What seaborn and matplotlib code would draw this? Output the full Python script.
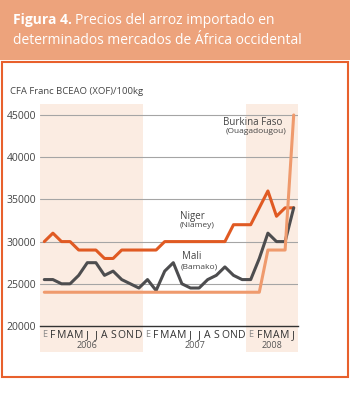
import numpy as np
import pandas as pd
import seaborn as sns
import matplotlib.pyplot as plt
from matplotlib.patches import Rectangle

# monthly prices, Jan 2006 .. Jun 2008 (XOF/100kg)
month_letters = ["E", "F", "M", "A", "M", "J", "J", "A", "S", "O", "N", "D"] * 2 + ["E", "F", "M", "A", "M", "J"]
niger = [30000, 31000, 30000, 30000, 29000, 29000, 29000, 28000, 28000, 29000, 29000, 29000,
         29000, 29000, 30000, 30000, 30000, 30000, 30000, 30000, 30000, 30000, 32000, 32000,
         32000, 34000, 36000, 33000, 34000, 34000]
mali = [25500, 25500, 25000, 25000, 26000, 27500, 27500, 26000, 26500, 25500, 25000, 24500,
        25500, 24200, 26500, 27500, 25000, 24500, 24500, 25500, 26000, 27000, 26000, 25500,
        25500, 28000, 31000, 30000, 30000, 34000]
burkina = [24000] * 25 + [24000, 29000, 29000, 29000, 45000]
years = ["2006", "2007", "2008"]
yticks = [20000, 25000, 30000, 35000, 40000, 45000]

n = len(month_letters)
df = pd.DataFrame({
    "mes": list(range(n)) * 3,
    "precio": niger + mali + burkina,
    "serie": ["Niger"] * n + ["Mali"] * n + ["Burkina"] * n,
})

sns.set_style("white")
plt.rcParams["font.family"] = ["Open Sans", "DejaVu Sans"]

fig = plt.figure(figsize=(3.5, 3.99), dpi=100)

# title banner and frame
fig.add_artist(Rectangle((0, 1 - 60 / 399), 1, 60 / 399, transform=fig.transFigure,
                         facecolor="#eda37c", edgecolor="none"))
fig.add_artist(Rectangle((2 / 350, 1 - 377 / 399), 346 / 350, (377 - 62) / 399,
                         transform=fig.transFigure, facecolor="none",
                         edgecolor="#e8602c", linewidth=1.5))
fig.text(13 / 350, 1 - 20 / 399, "Figura 4.", color="white", fontsize=10,
         fontweight="bold", va="center", ha="left")
fig.text(75 / 350, 1 - 20 / 399, "Precios del arroz importado en", color="white",
         fontsize=10, va="center", ha="left")
fig.text(13 / 350, 1 - 40 / 399, "determinados mercados de África occidental",
         color="white", fontsize=10, va="center", ha="left")
fig.text(10 / 350, 1 - 92 / 399, "CFA Franc BCEAO (XOF)/100kg", color="#444444",
         fontsize=6.8, va="center", ha="left")

ax = fig.add_axes([40 / 350, 1 - 326 / 399, 258 / 350, 222 / 399])
ax.set_xlim(-0.5, 29.5)
ax.set_ylim(20000, 46300)

# shaded years
for a, b in [(-0.5, 11.5), (23.5, 29.5)]:
    ax.axvspan(a, b, ymin=-0.117, ymax=1, color="#fbece2", lw=0, clip_on=False, zorder=0)

for y in yticks[1:]:
    ax.axhline(y, color="#a5a5a5", lw=0.8, zorder=1)

sns.lineplot(data=df, x="mes", y="precio", hue="serie", ax=ax, legend=False,
             palette={"Niger": "#e05a23", "Mali": "#4d4d4f", "Burkina": "#ef9a6d"},
             linewidth=2.2, zorder=3)

for s in ["top", "right", "left"]:
    ax.spines[s].set_visible(False)
ax.spines["bottom"].set_color("#333333")
ax.spines["bottom"].set_linewidth(1.0)

ax.set_yticks(yticks)
ax.set_yticklabels([str(v) for v in yticks], fontsize=7.5, color="#444444")
ax.tick_params(axis="y", length=0, pad=3)
ax.set_xticks(range(n))
ax.set_xticklabels(month_letters, fontsize=7.5, color="#333333")
ax.tick_params(axis="x", direction="in", length=4, color="#333333", pad=3)
for i, lab in enumerate(ax.get_xticklabels()):
    if i % 12 == 0:
        lab.set_color("#888888")
        lab.set_fontsize(6.5)
ax.set_xlabel("")
ax.set_ylabel("")

for x, yr in zip([5.0, 17.5, 26.5], years):
    ax.text(x, -0.09, yr, transform=ax.get_xaxis_transform(), fontsize=6.5,
            color="#555555", ha="center", va="center")

# series labels
ax.text(27.7, 44150, "Burkina Faso", fontsize=7, color="#444444", ha="right", va="center")
ax.text(28.2, 43000, "(Ouagadougou)", fontsize=6, color="#444444", ha="right", va="center")
ax.text(15.8, 33000, "Niger", fontsize=7, color="#444444", ha="left", va="center")
ax.text(15.7, 31850, "(Niamey)", fontsize=6, color="#444444", ha="left", va="center")
ax.text(16.0, 28200, "Mali", fontsize=7, color="#444444", ha="left", va="center")
ax.text(15.9, 27000, "(Bamako)", fontsize=6, color="#444444", ha="left", va="center")

fig.savefig("out.png", dpi=100)
